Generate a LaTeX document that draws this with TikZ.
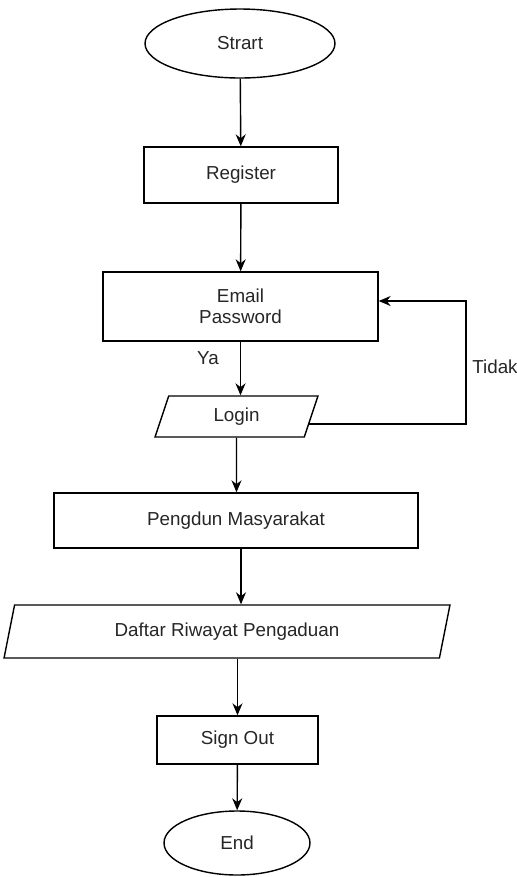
\documentclass[tikz,border=0pt]{standalone}
\usepackage{fontspec}
\setmainfont{Liberation Sans}
\usetikzlibrary{shapes.geometric,arrows.meta,calc,positioning}

\begin{document}
\begin{tikzpicture}[x=0.02cm,y=-0.02cm,>={Stealth[length=2.4mm,width=2mm]},
  every node/.style={font=\fontsize{10.7}{12}\selectfont,text=black!85},
  box/.style={draw,thick,rectangle,inner sep=0pt},
  term/.style={draw,thick,ellipse,inner sep=0pt},
  io/.style={draw,thick,trapezium,trapezium stretches body,inner sep=0pt}]

\useasboundingbox (0,0) rectangle (517,877);

\node[term,minimum width=3.8cm,minimum height=1.38cm] (start) at (240,43.5) {Strart};
\node[box,minimum width=3.88cm,minimum height=1.12cm] (register) at (241,175) {Register};
\node[box,align=center,minimum width=5.5cm,minimum height=1.38cm] (email) at (240.5,306.5) {Email\\Password};
\node[io,trapezium left angle=52,trapezium right angle=128,minimum width=3.26cm,minimum height=0.82cm] (login) at (236.5,416.5) {Login};
\node[box,minimum width=7.28cm,minimum height=1.1cm] (pengdun) at (236,520.5) {Pengdun Masyarakat};
\node[io,trapezium left angle=59,trapezium right angle=121,minimum width=8.92cm,minimum height=1.06cm] (daftar) at (227,631.5) {Daftar Riwayat Pengaduan};
\node[box,minimum width=3.22cm,minimum height=0.96cm] (signout) at (237.5,740) {Sign Out};
\node[term,minimum width=2.92cm,minimum height=1.28cm] (end) at (237,843) {End};

\node (ya) at (208,358) {Ya};
\node[anchor=west,inner sep=0pt] (tidak) at (472,367) {Tidak};

\coordinate (loop) at (466,0);
\coordinate (fb) at ($(login.bottom right corner)!0.32!(login.top right corner)$);

% main flow
\draw[thick,->] (start) -- (register);
\draw[thick,->] (register) -- (email);
\draw[thick,->] (email) -- (email |- login.north);
\draw[thick,->] (login) -- (login |- pengdun.north);
\draw[thick,->] ([xshift=0.1cm]pengdun.south) -- ([xshift=0.1cm]pengdun.south |- daftar.north);
\draw[thick,->] (daftar.south -| signout) -- (signout);
\draw[thick,->] (signout) -- (end);
% back to email
\draw[thick,->] (fb) -- (fb -| loop) |- ([yshift=0.11cm]email.east);

\end{tikzpicture}
\end{document}
